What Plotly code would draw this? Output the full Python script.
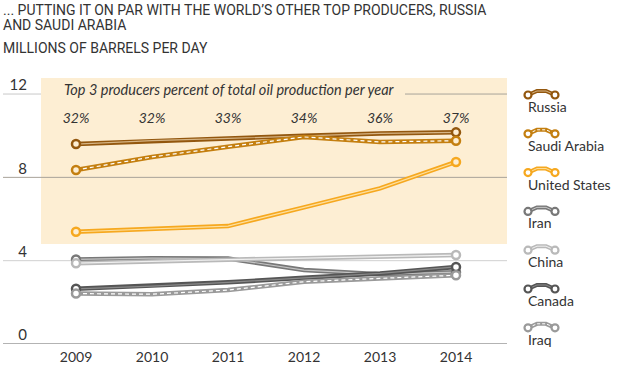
import plotly.graph_objects as go

years = [2009, 2010, 2011, 2012, 2013, 2014]
russia = [9.6, 9.76, 9.87, 10.0, 10.11, 10.16]
saudi = [8.35, 8.98, 9.47, 9.94, 9.7, 9.76]
united_states = [5.39, 5.52, 5.66, 6.56, 7.47, 8.74]
iran = [4.06, 4.12, 4.1, 3.55, 3.35, 3.45]
china = [3.88, 3.98, 4.05, 4.12, 4.2, 4.27]
canada = [2.65, 2.78, 2.96, 3.18, 3.39, 3.7]
iraq = [2.42, 2.39, 2.59, 2.99, 3.15, 3.3]
top3_share = ["32%", "32%", "33%", "34%", "36%", "37%"]
y_ticks = [0, 4, 8, 12]

CREAM = "#fdeed3"
series = [
    ("Russia", russia, "#93570e", "#d6b586", "solid", CREAM),
    ("Saudi Arabia", saudi, "#c47f10", "#ffffff", "dash", CREAM),
    ("United States", united_states, "#f6a81f", "#fde0a0", "solid", CREAM),
    ("Iran", iran, "#787878", "#c4c4c4", "solid", "#ffffff"),
    ("China", china, "#b9b9b9", "#f0f0f0", "solid", "#ffffff"),
    ("Canada", canada, "#555555", "#8a8a8a", "solid", "#ffffff"),
    ("Iraq", iraq, "#9a9a9a", "#ffffff", "dash", "#ffffff"),
]

W, H = 620, 366
ML, MR, MT, MB = 28, 0, 78, 22
PW = W - ML - MR
def px2paper(px):
    return (px - ML) / PW

main_right = px2paper(507)

fig = go.Figure()

for name, vals, outer, inner, dash, fill in series:
    fig.add_trace(go.Scatter(x=years, y=vals, mode="lines",
                             line=dict(color=outer, width=4.5), hoverinfo="skip", showlegend=False))
    fig.add_trace(go.Scatter(x=years, y=vals, mode="lines",
                             line=dict(color=inner, width=1.2, dash="solid" if dash == "solid" else "4px,3px"),
                             hoverinfo="skip", showlegend=False))
    fig.add_trace(go.Scatter(x=[years[0], years[-1]], y=[vals[0], vals[-1]], mode="markers",
                             marker=dict(size=8, color=fill, line=dict(color=outer, width=2.5)),
                             name=name, showlegend=False))

fig.add_trace(go.Scatter(x=years, y=[10.8] * len(years), mode="text", text=top3_share,
                         textfont=dict(family="Lato", size=14, color="#333333", style="italic"),
                         hoverinfo="skip", showlegend=False))

leg_top = 93.5
leg_step = 38.8
for i, (name, vals, outer, inner, dash, fill) in enumerate(series):
    yc = leg_top + i * leg_step
    ix = [528, 537, 546, 555]
    iy = [yc + 1.5, yc - 2.5, yc - 2.5, yc + 1.5]
    fig.add_trace(go.Scatter(x=ix, y=iy, mode="lines", xaxis="x2", yaxis="y2",
                             line=dict(color=outer, width=4), hoverinfo="skip", showlegend=False))
    fig.add_trace(go.Scatter(x=ix, y=iy, mode="lines", xaxis="x2", yaxis="y2",
                             line=dict(color=inner, width=1, dash="solid" if dash == "solid" else "3px,2px"),
                             hoverinfo="skip", showlegend=False))
    fig.add_trace(go.Scatter(x=[ix[0], ix[-1]], y=[iy[0], iy[-1]], mode="markers", xaxis="x2", yaxis="y2",
                             marker=dict(size=7, color="#ffffff", line=dict(color=outer, width=2.2)),
                             hoverinfo="skip", showlegend=False))
    fig.add_annotation(x=526, y=yc + 13, xref="x2", yref="y2", text=name, showarrow=False,
                       xanchor="left", yanchor="middle",
                       font=dict(family="Lato", size=14, color="#333333"))

shapes = []
shapes.append(dict(type="rect", xref="paper", yref="y", x0=px2paper(41), x1=main_right,
                   y0=4.8, y1=12.77, fillcolor=CREAM, line=dict(width=0), layer="below"))
gx0 = px2paper(3)
shapes.append(dict(type="line", xref="paper", yref="y", x0=gx0, x1=px2paper(41), y0=12, y1=12,
                   line=dict(color="#c8c8c8", width=1), layer="below"))
shapes.append(dict(type="line", xref="paper", yref="y", x0=px2paper(405), x1=main_right, y0=12, y1=12,
                   line=dict(color="#a8a39a", width=1), layer="below"))
shapes.append(dict(type="line", xref="paper", yref="y", x0=gx0, x1=main_right, y0=8, y1=8,
                   line=dict(color="#a8a39a", width=1), layer="below"))
shapes.append(dict(type="line", xref="paper", yref="y", x0=gx0, x1=main_right, y0=4, y1=4,
                   line=dict(color="#d0d0d0", width=1), layer="below"))
shapes.append(dict(type="line", xref="paper", yref="y", x0=gx0, x1=main_right, y0=0, y1=0,
                   line=dict(color="#9a9a9a", width=1.5), layer="below"))

fig.update_layout(
    width=W, height=H,
    margin=dict(l=ML, r=MR, t=MT, b=MB),
    paper_bgcolor="#ffffff", plot_bgcolor="rgba(0,0,0,0)",
    shapes=shapes,
    showlegend=False,
    xaxis=dict(domain=[0, main_right], range=[2009 - (76 - ML) / 76, 2014 + 51 / 76],
               tickvals=years, ticktext=[str(y) for y in years], showgrid=False, zeroline=False,
               showline=False, ticks="", ticklabelstandoff=3,
               tickfont=dict(family="Lato", size=14, color="#333333"), fixedrange=True),
    yaxis=dict(domain=[0, 1], range=[0, 12.77], tickvals=y_ticks, showgrid=False, zeroline=False,
               showline=False, ticks="", ticklabelshift=-9, ticklabelstandoff=0,
               tickfont=dict(family="Lato", size=15, color="#333333"), fixedrange=True),
    xaxis2=dict(domain=[px2paper(520), 1], range=[520, 620], visible=False, anchor="y2", fixedrange=True),
    yaxis2=dict(domain=[0, 1], range=[344, 78], visible=False, anchor="x2", fixedrange=True),
    font=dict(family="Lato", color="#333333"),
)

fig.add_annotation(x=px2paper(62), y=12.2, xref="paper", yref="y", xanchor="left", yanchor="middle",
                   text="Top 3 producers percent of total oil production per year", showarrow=False,
                   font=dict(family="Lato", size=14.5, color="#333333", style="italic"))

title_lines = ["... PUTTING IT ON PAR WITH THE WORLD’S OTHER TOP PRODUCERS, RUSSIA", "AND SAUDI ARABIA",
               "MILLIONS OF BARRELS PER DAY"]
for line, ypx in zip(title_lines, [9.5, 25, 48]):
    fig.add_annotation(x=px2paper(2), y=1, xref="paper", yref="paper", yanchor="middle", xanchor="left",
                       yshift=MT - ypx, text=line, showarrow=False, align="left", borderpad=0,
                       font=dict(family="Roboto", size=14, color="#333333"))

fig.write_html("out.html", post_script="document.body.style.margin='0';",
               config={"displayModeBar": False})
